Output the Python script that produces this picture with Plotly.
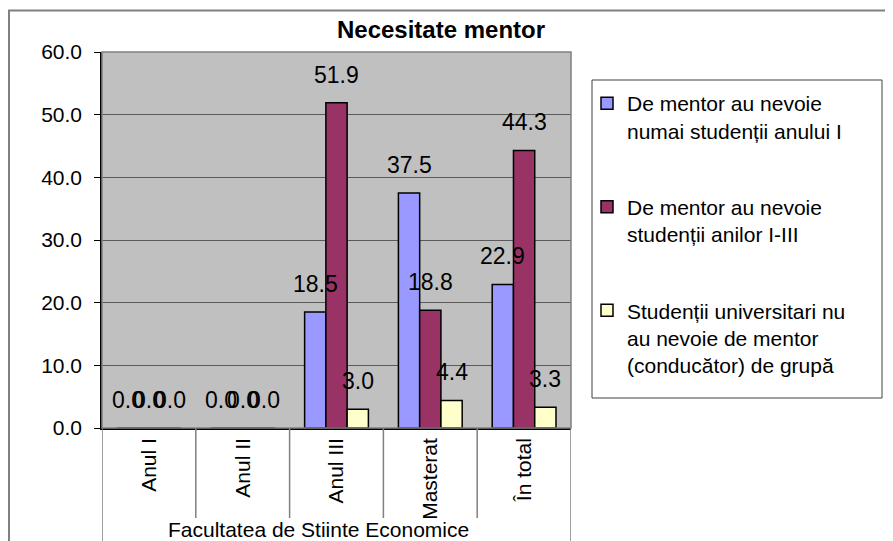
import plotly.graph_objects as go

categories = ["Anul I", "Anul II", "Anul III", "Masterat", "În total"]
series_names = [
    "De mentor au nevoie<br>numai studenții anului I",
    "De mentor au nevoie<br>studenții anilor I-III",
    "Studenții universitari nu<br>au nevoie de mentor<br>(conducător) de grupă",
]
s1 = [0.0, 0.0, 18.5, 37.5, 22.9]
s2 = [0.0, 0.0, 51.9, 18.8, 44.3]
s3 = [0.0, 0.0, 3.0, 4.4, 3.3]
colors = ["#9999FF", "#993366", "#FFFFCC"]
y_ticks = [0, 10, 20, 30, 40, 50, 60]
group_label = "Facultatea de Stiinte Economice"
title_text = "Necesitate mentor"

FONT = "Liberation Sans, Arial, sans-serif"
OFF = 8  # page body margin; figure is drawn starting at (8, 8) of the window
W, H = 893 - OFF, 541 - OFF
# target plot area in window pixels: x 102..571, y 52..428
ML, MT = 102 - OFF, 52 - OFF
MR = W - (571 - OFF)
MB = H - (428 - OFF)
PW, PH = W - ML - MR, H - MT - MB
BARGAP = 0.32

def px_x(p):
    """window pixel x -> paper x"""
    return (p - OFF - ML) / PW

def px_y(p):
    """window pixel y -> paper y"""
    return (H - MB - (p - OFF)) / PH

fig = go.Figure()
all_series = [s1, s2, s3]
for k, (vals, name, col) in enumerate(zip(all_series, series_names, colors)):
    fig.add_trace(go.Bar(
        x=categories, y=vals, name=name,
        marker=dict(color=col, line=dict(color="black", width=1.5)),
        legendgroup=f"g{k}",
        hoverinfo="y",
    ))

# data labels above each bar
n = len(all_series)
bw = (1 - BARGAP) / n
annotations = []
for k, vals in enumerate(all_series):
    off = (k - (n - 1) / 2) * bw
    for i, v in enumerate(vals):
        annotations.append(dict(
            x=i + off, y=v, xref="x", yref="y", text=f"{v:.1f}",
            showarrow=False, yanchor="middle", yshift=28,
            font=dict(family=FONT, size=23, color="black"),
        ))

annotations.append(dict(
    x=px_x(318), y=px_y(529), xref="paper", yref="paper", text=group_label,
    showarrow=False, xanchor="center", yanchor="middle",
    font=dict(family=FONT, size=21, color="black"),
))

shapes = []
# plot area border
shapes.append(dict(type="rect", xref="paper", yref="paper", x0=0, x1=1, y0=0, y1=1,
                   line=dict(color="#808080", width=1.5), fillcolor="rgba(0,0,0,0)", layer="above"))
# category separators
nc = len(categories)
for i in range(nc + 1):
    outer = i == 0 or i == nc
    shapes.append(dict(type="line", xref="x", yref="paper", x0=i - 0.5, x1=i - 0.5,
                       y0=0, y1=px_y(560) if outer else px_y(518),
                       line=dict(color="#808080", width=1.5)))
# legend box
shapes.append(dict(type="rect", xref="paper", yref="paper",
                   x0=px_x(592), x1=px_x(882), y0=px_y(398), y1=px_y(80),
                   line=dict(color="#404040", width=1), fillcolor="rgba(0,0,0,0)"))
# chart area border (top & left)
shapes.append(dict(type="line", xref="paper", yref="paper", x0=px_x(8), x1=px_x(910),
                   y0=px_y(10.5), y1=px_y(10.5), line=dict(color="#808080", width=2)))
shapes.append(dict(type="line", xref="paper", yref="paper", x0=px_x(9), x1=px_x(9),
                   y0=px_y(10), y1=px_y(560), line=dict(color="#808080", width=2)))

fig.update_layout(
    width=W, height=H,
    margin=dict(l=ML, r=MR, t=MT, b=MB, pad=0),
    paper_bgcolor="white", plot_bgcolor="#C0C0C0",
    barmode="group", bargap=BARGAP, bargroupgap=0,
    font=dict(family=FONT, size=21, color="black"),
    title=dict(text=f"<b>{title_text}</b>", x=(441 - OFF) / W, xanchor="center",
               y=1 - (30 - OFF) / H, yanchor="middle", yref="container",
               font=dict(family=FONT, size=24, color="black")),
    showlegend=True,
    legend=dict(x=px_x(587), y=px_y(83), xanchor="left", yanchor="top",
                xref="paper", yref="paper", valign="top", tracegroupgap=46,
                bgcolor="rgba(0,0,0,0)", borderwidth=0,
                font=dict(family=FONT, size=21, color="black")),
    annotations=annotations,
    shapes=shapes,
)
fig.update_xaxes(
    type="category", range=[-0.5, nc - 0.5], showgrid=False, ticks="",
    tickangle=-90, showline=True, linecolor="black", linewidth=1.5,
    tickfont=dict(family=FONT, size=21, color="black"), fixedrange=True,
)
fig.update_yaxes(
    range=[0, 60], tickvals=y_ticks, tickformat=".1f", showgrid=True,
    gridcolor="#5a5a5a", gridwidth=1, ticks="outside", ticklen=6,
    tickcolor="black", showline=True, linecolor="black", linewidth=1.5,
    ticklabelstandoff=8, zeroline=False,
    tickfont=dict(family=FONT, size=21, color="black"), fixedrange=True,
)

fig.write_html("out.html")
